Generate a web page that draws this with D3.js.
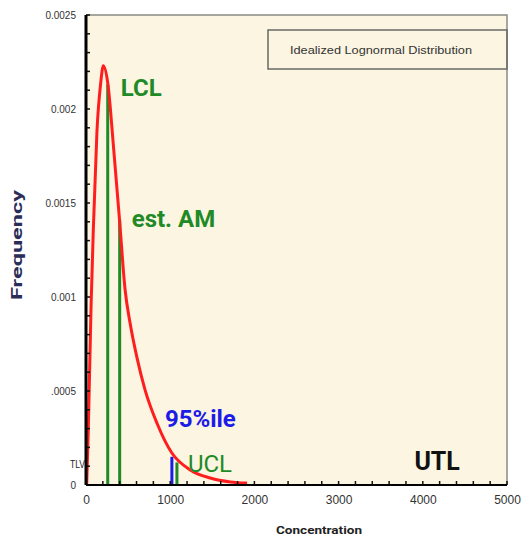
<!DOCTYPE html>
<html>
<head>
<meta charset="utf-8">
<script src="https://cdn.jsdelivr.net/npm/d3@7"></script>
<style>
  body { margin: 0; background: #fff; }
  svg { display: block; }
</style>
</head>
<body>
<svg id="chart"></svg>
<script>
  // Data
  var curveConc = [8, 27, 60, 87, 130, 175, 206, 258, 330, 400, 464, 524, 604, 702, 842, 1020, 1238, 1476, 1714, 1913]
  var curveFreq = [0, 0.00029, 0.00095, 0.00136, 0.00188, 0.00214, 0.00223, 0.00214, 0.00178, 0.00140, 0.00104, 0.00086, 0.00068, 0.000505, 0.00033, 0.00017, 0.00008, 0.000037, 0.000016, 0.00001]

  var markerNames = ['LCL', 'est. AM', '95%ile', 'UCL']
  var markerConc = [258, 400, 1020, 1080]
  var markerFreq = [0.00213, 0.00141, 0.00015, 0.00012]

  var xTicks = [0, 1000, 2000, 3000, 4000, 5000]
  var yTicks = [0, 0.0005, 0.001, 0.0015, 0.002, 0.0025]
  var yTickLabels = ['0', '.0005', '0.001', '0.0015', '0.002', '0.0025']

  var legendText = 'Idealized Lognormal Distribution'

  // Layout
  var WIDTH = 523
  var HEIGHT = 544
  var LEFT = 86, RIGHT = 507, TOP = 15, BOTTOM = 485
  var RED = '#ff1e1e'
  var GREEN = '#1f8a26'
  var BLUE = '#1c1ce6'

  var svg = d3.select('#chart')
    .attr('width', WIDTH)
    .attr('height', HEIGHT)

  var x = d3.scaleLinear().domain([0, 5000]).range([LEFT, RIGHT])
  var y = d3.scaleLinear().domain([0, 0.0025]).range([BOTTOM, TOP])

  // plot background + grey frame (top and right)
  svg.append('rect')
    .attr('x', LEFT).attr('y', TOP)
    .attr('width', RIGHT - LEFT).attr('height', BOTTOM - TOP)
    .attr('fill', '#fbf5e1')
  svg.append('path')
    .attr('d', 'M' + LEFT + ',' + TOP + 'H' + RIGHT + 'V' + BOTTOM)
    .attr('fill', 'none')
    .attr('stroke', '#8a8a84')
    .attr('stroke-width', 1.5)

  // legend box
  svg.append('rect')
    .attr('x', 268).attr('y', 30)
    .attr('width', RIGHT - 268).attr('height', 39)
    .attr('fill', 'none')
    .attr('stroke', '#6a6a66')
    .attr('stroke-width', 1.5)
  svg.append('text')
    .attr('x', 381).attr('y', 54)
    .attr('text-anchor', 'middle')
    .attr('font-family', 'Liberation Sans, Arial, sans-serif')
    .attr('font-size', 11)
    .attr('fill', '#333')
    .attr('textLength', 182)
    .attr('lengthAdjust', 'spacingAndGlyphs')
    .text(legendText)

  // marker lines
  var markers = markerNames.map(function (name, i) {
    return { name: name, conc: markerConc[i], freq: markerFreq[i] }
  })
  svg.append('g')
    .selectAll('line')
    .data(markers)
    .enter()
    .append('line')
    .attr('x1', function (d) { return x(d.conc) })
    .attr('x2', function (d) { return x(d.conc) })
    .attr('y1', y(0))
    .attr('y2', function (d) { return y(d.freq) })
    .attr('stroke', function (d) { return d.name === '95%ile' ? BLUE : GREEN })
    .attr('stroke-width', 3)

  // lognormal curve
  var points = curveConc.map(function (c, i) { return [c, curveFreq[i]] })
  var line = d3.line()
    .x(function (d) { return x(d[0]) })
    .y(function (d) { return y(d[1]) })
    .curve(d3.curveMonotoneX)
  svg.append('path')
    .attr('d', line(points))
    .attr('fill', 'none')
    .attr('stroke', RED)
    .attr('stroke-width', 3)
    .attr('stroke-linejoin', 'round')

  // axes
  var yAxis = d3.axisLeft(y)
    .tickValues(yTicks)
    .tickFormat(function (d, i) { return yTickLabels[i] })
    .tickSize(0)
    .tickPadding(10)
  var yG = svg.append('g')
    .attr('transform', 'translate(' + LEFT + ',0)')
    .call(yAxis)
  yG.select('.domain').remove()
  yG.selectAll('text')
    .attr('font-family', 'Liberation Sans, Arial, sans-serif')
    .attr('font-size', 10)
    .attr('fill', '#333')

  var xAxis = d3.axisBottom(x)
    .tickValues(xTicks)
    .tickFormat(d3.format('d'))
    .tickSize(0)
    .tickPadding(10)
  var xG = svg.append('g')
    .attr('transform', 'translate(0,' + BOTTOM + ')')
    .call(xAxis)
  xG.select('.domain').remove()
  xG.selectAll('text')
    .attr('font-family', 'Liberation Sans, Arial, sans-serif')
    .attr('font-size', 12)
    .attr('fill', '#333')

  // minor ticks pointing inward
  svg.append('g')
    .selectAll('line')
    .data(d3.range(0, 0.00251, 0.0001))
    .enter()
    .append('line')
    .attr('x1', LEFT).attr('x2', LEFT + 4)
    .attr('y1', function (d) { return y(d) })
    .attr('y2', function (d) { return y(d) })
    .attr('stroke', '#111')
    .attr('stroke-width', 1.5)
  svg.append('g')
    .selectAll('line')
    .data(d3.range(0, 5001, 200))
    .enter()
    .append('line')
    .attr('x1', function (d) { return x(d) })
    .attr('x2', function (d) { return x(d) })
    .attr('y1', BOTTOM).attr('y2', BOTTOM - 4)
    .attr('stroke', '#111')
    .attr('stroke-width', 1.5)

  // axis lines
  svg.append('line')
    .attr('x1', LEFT).attr('x2', LEFT)
    .attr('y1', TOP).attr('y2', BOTTOM)
    .attr('stroke', '#000').attr('stroke-width', 3)
  svg.append('line')
    .attr('x1', LEFT).attr('x2', RIGHT)
    .attr('y1', BOTTOM).attr('y2', BOTTOM)
    .attr('stroke', '#000').attr('stroke-width', 2)

  // axis titles
  svg.append('text')
    .attr('transform', 'translate(22,245) rotate(-90)')
    .attr('text-anchor', 'middle')
    .attr('font-family', 'Roboto, sans-serif')
    .attr('font-weight', 'bold')
    .attr('font-size', 14)
    .attr('fill', '#2c2c58')
    .attr('textLength', 110)
    .attr('lengthAdjust', 'spacingAndGlyphs')
    .text('Frequency')
  svg.append('text')
    .attr('x', 319).attr('y', 534)
    .attr('text-anchor', 'middle')
    .attr('font-family', 'Roboto, sans-serif')
    .attr('font-weight', 'bold')
    .attr('font-size', 11)
    .attr('fill', '#222')
    .attr('textLength', 86)
    .attr('lengthAdjust', 'spacingAndGlyphs')
    .text('Concentration')

  // marker labels
  var labelStyle = {
    'LCL': { dx: 13, dy: 11, color: GREEN, weight: 'bold' },
    'est. AM': { dx: 12, dy: 7, color: GREEN, weight: 'bold' },
    '95%ile': { dx: -7, dy: -30, color: BLUE, weight: 'bold' },
    'UCL': { dx: 11, dy: 10, color: GREEN, weight: 'normal' }
  }
  svg.append('g')
    .selectAll('text')
    .data(markers)
    .enter()
    .append('text')
    .attr('x', function (d) { return x(d.conc) + labelStyle[d.name].dx })
    .attr('y', function (d) { return y(d.freq) + labelStyle[d.name].dy })
    .attr('font-family', 'Roboto, sans-serif')
    .attr('font-size', 24)
    .attr('font-weight', function (d) { return labelStyle[d.name].weight })
    .attr('fill', function (d) { return labelStyle[d.name].color })
    .text(function (d) { return d.name })

  svg.append('text')
    .attr('x', x(3900)).attr('y', y(0.00008))
    .attr('font-family', 'Roboto, sans-serif')
    .attr('font-size', 25)
    .attr('font-weight', 'bold')
    .attr('fill', '#111')
    .text('UTL')

  svg.append('text')
    .attr('x', LEFT - 1).attr('y', y(0.00009))
    .attr('text-anchor', 'end')
    .attr('font-family', 'Liberation Sans, Arial, sans-serif')
    .attr('font-size', 11)
    .attr('fill', '#222')
    .attr('textLength', 15)
    .attr('lengthAdjust', 'spacingAndGlyphs')
    .text('TLV')
</script>
</body>
</html>
